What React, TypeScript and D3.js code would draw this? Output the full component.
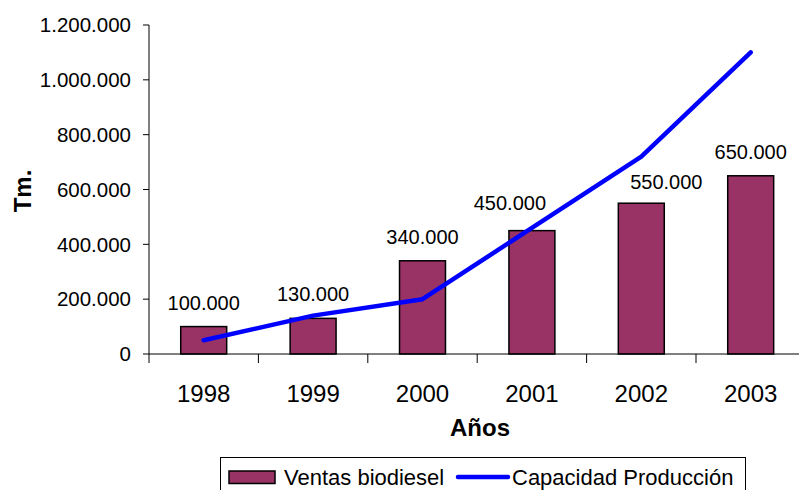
import React from "react";
import * as d3 from "d3";

const years = ["1998", "1999", "2000", "2001", "2002", "2003"];
const ventas = [100000, 130000, 340000, 450000, 550000, 650000];
const capacidad = [50000, 140000, 200000, 460000, 720000, 1100000];
const yTicks = [0, 200000, 400000, 600000, 800000, 1000000, 1200000];

// Manual nudges for value labels that sit near the line (px)
const labelNudgeX = [0, 0, 0, -22, 25, 0];
const labelNudgeY = [0, 0, 0, -4, 3, 0];

const W = 799;
const H = 490;
const FONT = "Arial, 'Liberation Sans', sans-serif";

const fmt = (v: number) => d3.format(",")(v).replace(/,/g, ".");

export default function App() {
  const x = d3.scaleBand<string>().domain(years).range([149, 805.4]).paddingInner(0).paddingOuter(0);
  const y = d3.scaleLinear().domain([0, 1200000]).range([354, 25]);
  const bw = x.bandwidth() * 0.42;
  const cx = (d: string) => (x(d) as number) + x.bandwidth() / 2;

  const line = d3
    .line<number>()
    .x((_, i) => cx(years[i]))
    .y((v) => y(v));

  return (
    <svg
      width={W}
      height={H}
      style={{ position: "absolute", left: 0, top: 0, background: "#fff" }}
      fontFamily={FONT}
    >
      {/* Y axis */}
      <line x1={149} x2={149} y1={y(1200000)} y2={y(0)} stroke="#000" strokeWidth={1} />
      {yTicks.map((t) => (
        <g key={t}>
          <line x1={143} x2={149} y1={y(t)} y2={y(t)} stroke="#000" />
          <text x={131} y={y(t)} dy="0.35em" textAnchor="end" fontSize={20.5} fill="#000">
            {fmt(t)}
          </text>
        </g>
      ))}
      <text
        transform={`translate(31,191) rotate(-90)`}
        textAnchor="middle"
        fontSize={24}
        fontWeight="bold"
        fill="#000"
      >
        Tm.
      </text>

      {/* Bars */}
      {years.map((yr, i) => (
        <g key={yr}>
          <rect
            x={cx(yr) - bw / 2}
            y={y(ventas[i])}
            width={bw}
            height={y(0) - y(ventas[i])}
            fill="#993366"
            stroke="#000"
            strokeWidth={1.5}
          />
          <text
            x={cx(yr) + labelNudgeX[i]}
            y={y(ventas[i]) - 17 + labelNudgeY[i]}
            textAnchor="middle"
            fontSize={20}
            fill="#000"
          >
            {fmt(ventas[i])}
          </text>
        </g>
      ))}

      {/* Line */}
      <path d={line(capacidad) || ""} fill="none" stroke="#0000ff" strokeWidth={4.5} strokeLinejoin="round" strokeLinecap="round" />

      {/* X axis */}
      <line x1={149} x2={W} y1={y(0)} y2={y(0)} stroke="#000" strokeWidth={1} />
      {years.map((yr) => (
        <line key={"t" + yr} x1={x(yr) as number} x2={x(yr) as number} y1={354} y2={363} stroke="#000" />
      ))}
      {years.map((yr) => (
        <text key={"l" + yr} x={cx(yr)} y={402} textAnchor="middle" fontSize={24} fill="#000">
          {yr}
        </text>
      ))}
      <text x={480} y={436} textAnchor="middle" fontSize={24} fontWeight="bold" fill="#000">
        Años
      </text>

      {/* Legend */}
      <rect x={220.5} y={457.5} width={525} height={40} fill="#fff" stroke="#000" strokeWidth={1} />
      <rect x={229} y={471} width={46} height={12.5} fill="#993366" stroke="#000" strokeWidth={1.5} />
      <text x={284} y={485} fontSize={22} fill="#000">Ventas biodiesel</text>
      <line x1={458} x2={508} y1={477} y2={477} stroke="#0000ff" strokeWidth={4.5} strokeLinecap="round" />
      <text x={512} y={485} fontSize={22} fill="#000">Capacidad Producción</text>
    </svg>
  );
}
